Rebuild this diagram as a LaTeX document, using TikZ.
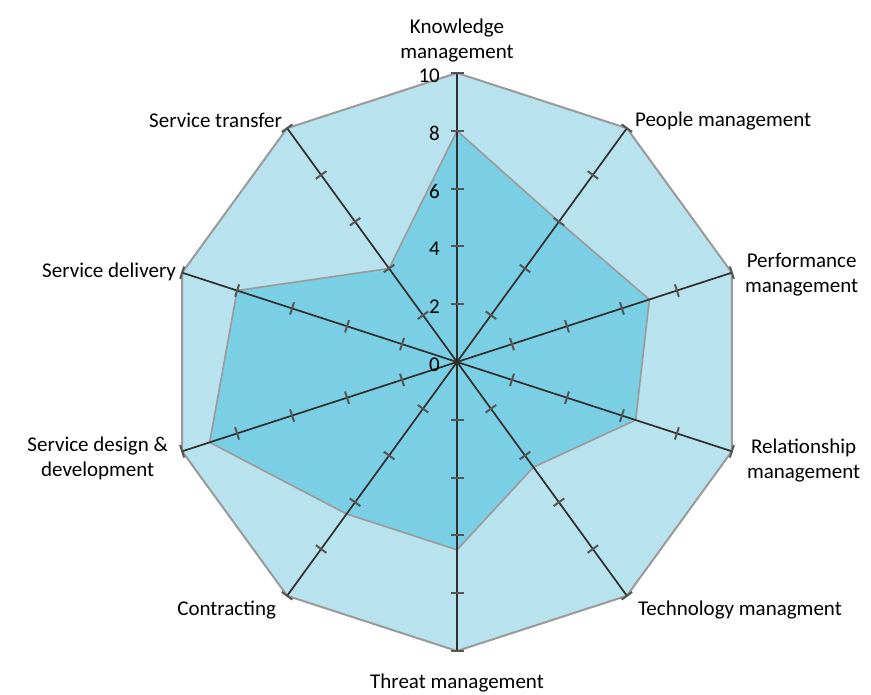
\documentclass[tikz,border=0pt]{standalone}
\usepackage{fontspec}
\setmainfont{Carlito}
\usepackage{tikz}
\usetikzlibrary{calc}
\definecolor{webfill}{HTML}{B8E2EE}
\definecolor{scorefill}{HTML}{7BCFE4}
\definecolor{webedge}{HTML}{9A9A9A}
\definecolor{axisgray}{HTML}{2E2E2E}
\definecolor{tickgray}{HTML}{555555}
\tikzstyle{outerweb} = [fill=webfill, draw=webedge, line width=2pt]
\tikzstyle{scorepoly} = [fill=scorefill, draw=webedge, line width=1.6pt]
\tikzstyle{axisline} = [draw=axisgray, line width=1.7pt]
\tikzstyle{tickmark} = [draw=tickgray, line width=2pt]
\tikzstyle{axislabel} = [font=\fontsize{21}{25}\selectfont, inner sep=0pt, align=center]
\tikzstyle{scalelabel} = [font=\fontsize{21}{24}\selectfont, inner sep=0pt, anchor=east]

\begin{document}
\begin{tikzpicture}[x=1pt, y=1pt]
\useasboundingbox (0,0) rectangle (871,695);
\coordinate (ctr) at (457,333);
% axis ends (value 10)
\foreach \i in {0,...,9}
  \coordinate (v\i) at ($(ctr)+({90-36*\i}:289)$);
% scores
\foreach \s [count=\i from 0] in {8,6,7,6.5,4.5,6.5,6.5,9,8,4}
  \coordinate (s\i) at ($(ctr)+({90-36*\i}:{28.9*\s})$);

\draw[outerweb] (v0) \foreach \i in {1,...,9} {-- (v\i)} -- cycle;
\draw[scorepoly] (s0) \foreach \i in {1,...,9} {-- (s\i)} -- cycle;

% axes and ticks
\foreach \i in {0,...,9} {
  \draw[axisline] (ctr) -- (v\i);
  \foreach \t in {2,4,...,10}
    \draw[tickmark] ($(ctr)+({90-36*\i}:{28.9*\t})+({180-36*\i}:6.5)$) -- ++({-36*\i}:13);
}
\fill[axisgray] (ctr) circle (2.5);

% scale
\foreach \t in {0,2,...,10}
  \node[scalelabel] (n\t) at ($(ctr)+(-17,{28.9*\t-2.5})$) {\t};

% axis labels
\node[axislabel, anchor=south] (lbl0) at ($(v0)+(0,11)$) {Knowledge\\management};
\node[axislabel, anchor=west] (lbl1) at ($(v1)+(8,7)$) {People management};
\node[axislabel, anchor=west] (lbl2) at ($(v2)+(13,-2)$) {Performance\\management};
\node[axislabel, anchor=west] (lbl3) at ($(v3)+(15,-9)$) {Relationship\\management};
\node[axislabel, anchor=west] (lbl4) at ($(v4)+(11,-14)$) {Technology managment};
\node[axislabel, anchor=north] (lbl5) at ($(v5)+(0,-23)$) {Threat management};
\node[axislabel, anchor=east] (lbl6) at ($(v6)+(-11,-14)$) {Contracting};
\node[axislabel, anchor=east] (lbl7) at ($(v7)+(-14,-7)$) {Service design \&\\development};
\node[axislabel, anchor=east] (lbl8) at ($(v8)+(-6,1)$) {Service delivery};
\node[axislabel, anchor=east] (lbl9) at ($(v9)+(-5,8)$) {Service transfer};
\end{tikzpicture}
\end{document}
